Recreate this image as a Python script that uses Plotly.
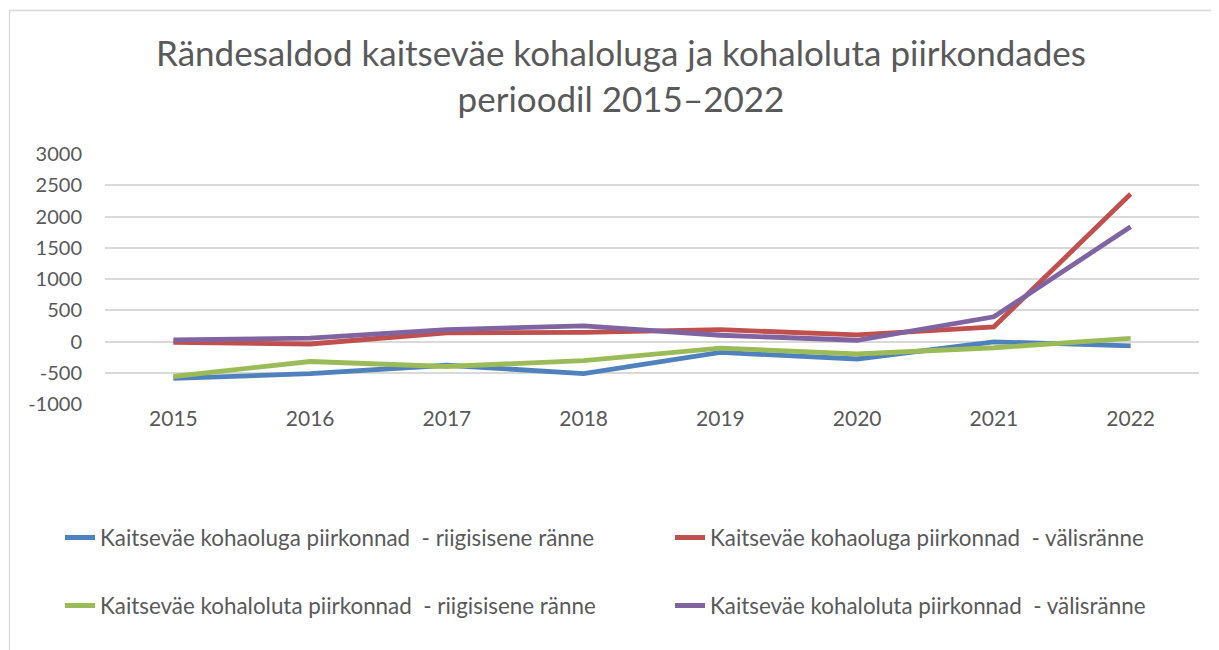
import plotly.graph_objects as go

years = ["2015", "2016", "2017", "2018", "2019", "2020", "2021", "2022"]
names = [
    "Kaitseväe kohaoluga piirkonnad  - riigisisene ränne",
    "Kaitseväe kohaoluga piirkonnad  - välisränne",
    "Kaitseväe kohaloluta piirkonnad  - riigisisene ränne",
    "Kaitseväe kohaloluta piirkonnad  - välisränne",
]
oluga_riigisisene = [-590, -515, -380, -515, -175, -280, -5, -70]
oluga_valis = [-15, -40, 140, 145, 190, 105, 235, 2360]
oluta_riigisisene = [-560, -320, -400, -305, -105, -200, -100, 50]
oluta_valis = [25, 55, 190, 250, 100, 20, 395, 1835]
y_tick_values = [-1000, -500, 0, 500, 1000, 1500, 2000, 2500, 3000]
y_tick_labels = ["-1000", "-500", "0", "500", "1000", "1500", "2000", "2500", "3000"]
colors = ["#4F81BD", "#C0504D", "#9BBB59", "#8064A2"]
series = [oluga_riigisisene, oluga_valis, oluta_riigisisene, oluta_valis]
legends = ["legend", "legend2", "legend3", "legend4"]

FONT = "Lato"
TXT = "#595959"
OFF = 8  # page body margin

fig = go.Figure()
for n, v, c, lg in zip(names, series, colors, legends):
    fig.add_trace(go.Scatter(x=years, y=v, name=n, mode="lines",
                             line=dict(color=c, width=4.8), legend=lg))

W, H = 1219 - OFF, 650 - OFF
# plot area in screen coordinates
SX0, SX1, SY0, SY1 = 105, 1199, 154, 404
L, R, T, B = SX0 - OFF, W - (SX1 - OFF), SY0 - OFF, H - (SY1 - OFF)
pw, ph = W - L - R, H - T - B

def px(x):  # screen x -> paper
    return (x - OFF - L) / pw

def py(y):  # screen y -> paper
    return (H - B - (y - OFF)) / ph

def leg(xp, yp):
    return dict(orientation="h", xanchor="left", yanchor="middle",
                x=px(xp), y=py(yp),
                font=dict(family=FONT, size=22.4, color=TXT),
                bgcolor="rgba(0,0,0,0)", itemsizing="constant")

fig.update_layout(
    width=W, height=H,
    margin=dict(l=L, r=R, t=T, b=B, autoexpand=False),
    paper_bgcolor="white", plot_bgcolor="white",
    font=dict(family=FONT, color=TXT),
    title=dict(text="Rändesaldod kaitseväe kohaloluga ja kohaloluta piirkondades<br>perioodil 2015–2022",
               x=(621 - OFF) / W, xanchor="center", xref="container",
               y=1 - 58 / H, yanchor="top", yref="container",
               font=dict(family=FONT, size=35, color=TXT)),
    xaxis=dict(range=[-0.5, 7.5], showgrid=False, zeroline=False, showline=False,
               ticks="", tickfont=dict(family=FONT, size=21, color=TXT)),
    yaxis=dict(range=[-1000, 3000], tickvals=y_tick_values, ticktext=y_tick_labels,
               showgrid=True, gridcolor="#D9D9D9",
               gridwidth=1.5, zeroline=False, showline=False, ticks="",
               tickfont=dict(family=FONT, size=20, color=TXT), ticklabelstandoff=22),
    legend=leg(60, 538),
    legend2=leg(670, 538),
    legend3=leg(60, 606),
    legend4=leg(670, 606),
    shapes=[dict(type="rect", xref="paper", yref="paper",
                 x0=px(9.5), x1=px(1300), y0=py(10.5), y1=py(700),
                 line=dict(color="#D9D9D9", width=1.3), fillcolor="rgba(0,0,0,0)",
                 layer="below")],
    showlegend=True,
)

fig.write_html("out.html")
